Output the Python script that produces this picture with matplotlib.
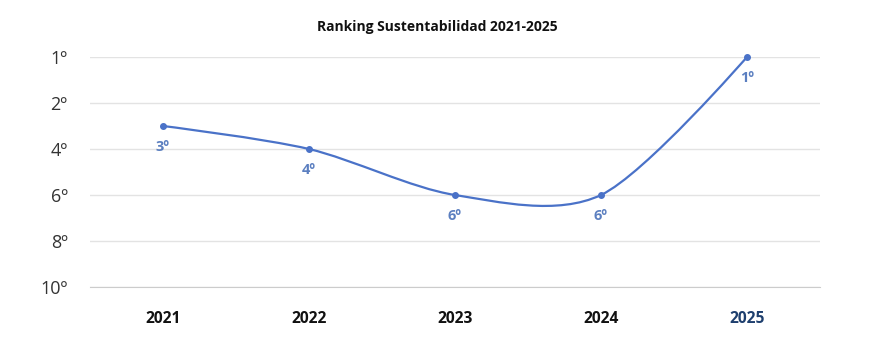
#!/usr/bin/env python3
"""Sustainability ranking 2021-2025 as a smoothed line chart."""

import matplotlib
matplotlib.use("Agg")
import matplotlib.pyplot as plt
import numpy as np
from matplotlib.path import Path
from matplotlib.patches import PathPatch

years = ["2021", "2022", "2023", "2024", "2025"]
ranks = [3, 4, 6, 6, 1]
tick_ranks = [1, 2, 4, 6, 8, 10]

LINE   = "#4a72c8"
LABEL  = "#5b7fc0"
HILITE = "#1e3f6e"

plt.rcParams["font.family"] = ["Open Sans", "DejaVu Sans"]


def rank_pos(r):
    # gridlines are evenly spaced: 1º, 2º, then every two places
    r = np.asarray(r, dtype=float)
    return np.where(r <= 2, r - 1, r / 2)


def spline_path(x, y, tension=0.5):
    """Cardinal spline through the points, as cubic bezier segments."""
    n = len(x)
    pts = np.column_stack([x, y])
    tang = np.zeros_like(pts)
    for i in range(n):
        if 0 < i < n - 1:
            tang[i] = tension * (pts[i + 1] - pts[i - 1])
    verts = [pts[0]]
    codes = [Path.MOVETO]
    for i in range(n - 1):
        verts += [pts[i] + tang[i] / 3, pts[i + 1] - tang[i + 1] / 3, pts[i + 1]]
        codes += [Path.CURVE4] * 3
    return Path(verts, codes)


fig = plt.figure(figsize=(8.82, 3.44), dpi=100)
ax = fig.add_axes([0.102, 0.1657, 0.8277, 0.6686])

x = np.arange(len(years))
y = rank_pos(ranks)

ax.add_patch(PathPatch(spline_path(x, y, tension=0.45), facecolor="none",
                       edgecolor=LINE, lw=1.6, clip_on=False, zorder=3))
ax.plot(x, y, "o", color=LINE, ms=4, clip_on=False, zorder=4)

for xi, yi, r in zip(x, y, ranks):
    ax.annotate(f"{r}º", (xi, yi), xytext=(0, -15), textcoords="offset points",
                ha="center", va="center", fontsize=10.5, fontweight="bold",
                color=LABEL, zorder=5)

ax.set_xlim(-0.5, 4.5)
ax.set_ylim(5, 0)

ax.set_yticks(rank_pos(tick_ranks))
ax.set_yticklabels([f"{r}º" for r in tick_ranks], fontsize=13, color="#333333")
ax.set_xticks(x)
ax.set_xticklabels(years, fontsize=11.2, fontweight="bold", color="#111111")
ax.get_xticklabels()[-1].set_color(HILITE)

ax.tick_params(axis="y", length=0, pad=16)
ax.tick_params(axis="x", length=0, pad=17)
ax.grid(axis="y", color="#e3e3e3", lw=1)
for s in ("top", "right", "left"):
    ax.spines[s].set_visible(False)
ax.spines["bottom"].set_color("#cccccc")
ax.set_axisbelow(True)

fig.text(437 / 882, 1 - 27 / 344, "Ranking Sustentabilidad 2021-2025",
         ha="center", va="center", fontsize=10, fontweight="bold",
         color="#111111")

fig.savefig("out.png", dpi=100)
